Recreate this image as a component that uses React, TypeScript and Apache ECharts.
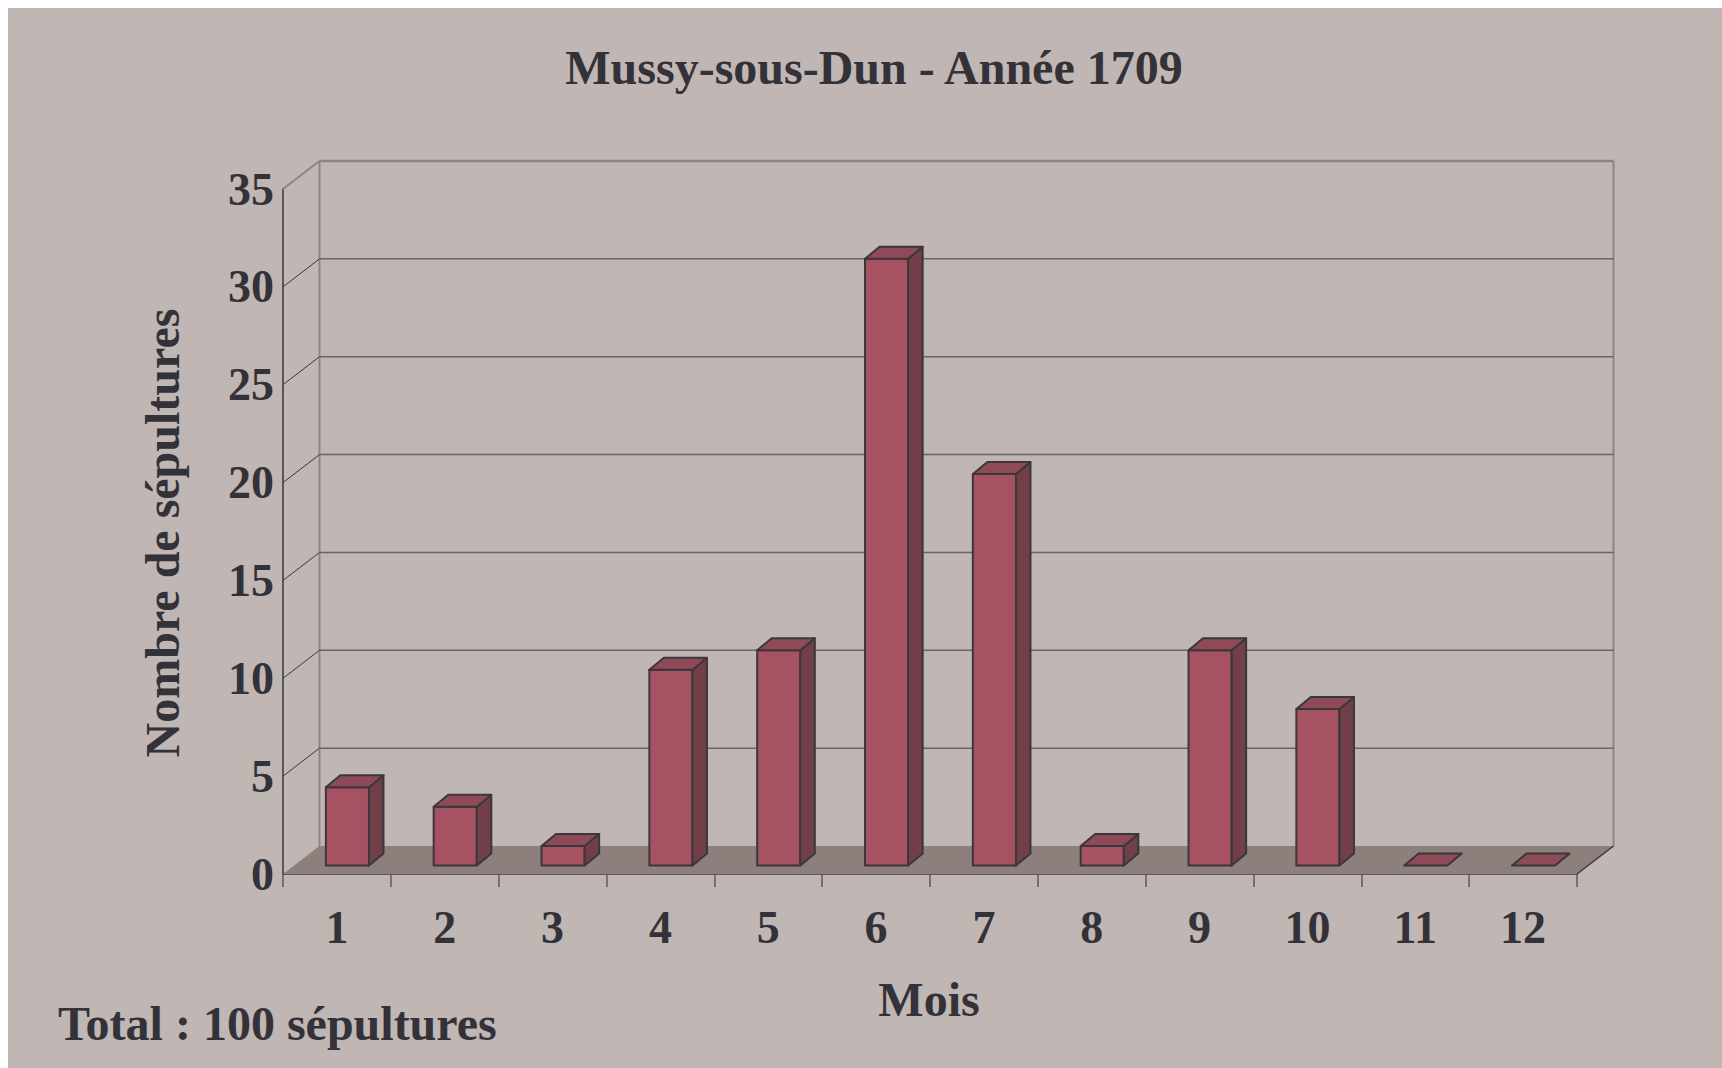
import React, { useEffect, useRef } from "react";
import * as echarts from "echarts";

const months = ["1", "2", "3", "4", "5", "6", "7", "8", "9", "10", "11", "12"];
const burials = [4, 3, 1, 10, 11, 31, 20, 1, 11, 8, 0, 0];
const yTicks = [0, 5, 10, 15, 20, 25, 30, 35];

const titleText = "Mussy-sous-Dun - Année 1709";
const yName = "Nombre de sépultures";
const xName = "Mois";
const totalText = "Total : 100 sépultures";

const FONT = "'Liberation Serif', 'Times New Roman', serif";
const TEXT = "#333238";
const BG = "#c0b6b3";
const FLOOR = "#8c7f7c";
const WALL_EDGE = "#8e8381";
const GRID = "#6b6464";
const DARK = "#3a373d";
const FRONT = "#a65262";
const SIDE = "#723f48";
const TOP = "#8e4a56";

// depth of the 3D box
const DX = 36.5;
const DY = 28;
// bar placement in depth
const BOX = 10.5;
const BOY = 8.5;
const BDX = 14.5;
const BDY = 12;

export default function App() {
  const ref = useRef<HTMLDivElement>(null);
  useEffect(() => {
    if (!ref.current) return;
    const chart = echarts.init(ref.current, null, { renderer: "svg" });
    const option: any = {
      animation: false,
      backgroundColor: BG,
      grid: { left: 275, top: 181, width: 1294, height: 685 },
      xAxis: {
        type: "category",
        data: months,
        axisLine: { show: true, lineStyle: { color: DARK, width: 1.5 } },
        axisTick: { show: true, length: 13, lineStyle: { color: "#5e5858", width: 1.5 } },
        axisLabel: {
          margin: 30,
          fontSize: 46,
          lineHeight: 46,
          fontFamily: FONT,
          fontWeight: "bold",
          color: TEXT,
        },
        splitLine: { show: false },
      },
      yAxis: {
        type: "value",
        min: 0,
        max: 35,
        interval: 5,
        axisLine: { show: true, lineStyle: { color: DARK, width: 1.5 } },
        axisTick: { show: false },
        splitLine: { show: false },
        axisLabel: {
          margin: 9,
          fontSize: 46,
          fontFamily: FONT,
          fontWeight: "bold",
          color: TEXT,
        },
      },
      graphic: [
        {
          type: "text",
          x: 866,
          y: 59,
          style: {
            text: titleText,
            align: "center",
            verticalAlign: "middle",
            fontSize: 48,
            fontWeight: "bold",
            fontFamily: FONT,
            fill: TEXT,
          },
        },
        {
          type: "text",
          x: 154.5,
          y: 525,
          rotation: Math.PI / 2,
          style: {
            text: yName,
            align: "center",
            verticalAlign: "middle",
            fontSize: 48,
            fontWeight: "bold",
            fontFamily: FONT,
            fill: TEXT,
          },
        },
        {
          type: "text",
          x: 921,
          y: 991,
          style: {
            text: xName,
            align: "center",
            verticalAlign: "middle",
            fontSize: 48,
            fontWeight: "bold",
            fontFamily: FONT,
            fill: TEXT,
          },
        },
        {
          type: "text",
          x: 50,
          y: 1015,
          style: {
            text: totalText,
            align: "left",
            verticalAlign: "middle",
            fontSize: 48,
            fontWeight: "bold",
            fontFamily: FONT,
            fill: TEXT,
          },
        },
      ],
      series: [
        {
          type: "custom",
          name: "frame",
          clip: false,
          z: 1,
          silent: true,
          data: yTicks.map((v) => [0, v]),
          encode: { x: 0, y: 1 },
          renderItem: (params: any, api: any) => {
            const cs = params.coordSys;
            const x0 = cs.x;
            const x1 = cs.x + cs.width;
            const v = api.value(1);
            const y = api.coord([0, v])[1];
            const children: any[] = [];
            if (v === 0) {
              const yTop = cs.y;
              children.push({
                type: "polygon",
                shape: {
                  points: [
                    [x0, y],
                    [x1, y],
                    [x1 + DX, y - DY],
                    [x0 + DX, y - DY],
                  ],
                },
                style: { fill: FLOOR, stroke: null },
              });
              children.push({
                type: "line",
                shape: { x1: x0 + DX, y1: yTop - DY, x2: x0 + DX, y2: y - DY },
                style: { stroke: WALL_EDGE, lineWidth: 2 },
              });
              children.push({
                type: "line",
                shape: { x1: x1 + DX, y1: yTop - DY, x2: x1 + DX, y2: y - DY },
                style: { stroke: WALL_EDGE, lineWidth: 2 },
              });
              children.push({
                type: "line",
                shape: { x1: x1, y1: y, x2: x1 + DX, y2: y - DY },
                style: { stroke: DARK, lineWidth: 1.5 },
              });
            } else {
              const top = v === yTicks[yTicks.length - 1];
              children.push({
                type: "line",
                shape: { x1: x0, y1: y, x2: x0 + DX, y2: y - DY },
                style: { stroke: top ? WALL_EDGE : DARK, lineWidth: top ? 2 : 1 },
              });
              children.push({
                type: "line",
                shape: { x1: x0 + DX, y1: y - DY, x2: x1 + DX, y2: y - DY },
                style: { stroke: top ? WALL_EDGE : GRID, lineWidth: top ? 2.5 : 1.5 },
              });
            }
            return { type: "group", children };
          },
        },
        {
          type: "custom",
          name: "Sépultures",
          clip: false,
          z: 3,
          data: burials.map((v, i) => [i, v]),
          encode: { x: 0, y: 1 },
          renderItem: (params: any, api: any) => {
            const i = api.value(0);
            const v = api.value(1);
            const [cx, yv] = api.coord([i, v]);
            const yb = api.coord([i, 0])[1];
            const bw = api.size([1, 0])[0] * 0.4;
            const l = cx - bw / 2 + BOX;
            const r = l + bw;
            const t = yv - BOY;
            const b = yb - BOY;
            const st = { stroke: DARK, lineWidth: 2, lineJoin: "round" };
            const children: any[] = [];
            if (v > 0) {
              children.push({
                type: "polygon",
                shape: { points: [[l, b], [r, b], [r, t], [l, t]] },
                style: { fill: FRONT, ...st },
              });
              children.push({
                type: "polygon",
                shape: { points: [[r, b], [r, t], [r + BDX, t - BDY], [r + BDX, b - BDY]] },
                style: { fill: SIDE, ...st },
              });
            }
            children.push({
              type: "polygon",
              shape: { points: [[l, t], [r, t], [r + BDX, t - BDY], [l + BDX, t - BDY]] },
              style: { fill: TOP, ...st },
            });
            return { type: "group", children };
          },
        },
      ],
    };
    chart.setOption(option);
    return () => chart.dispose();
  }, []);
  return (
    <div
      ref={ref}
      style={{ position: "absolute", left: 8, top: 8, width: 1714, height: 1060, background: BG }}
    />
  );
}
